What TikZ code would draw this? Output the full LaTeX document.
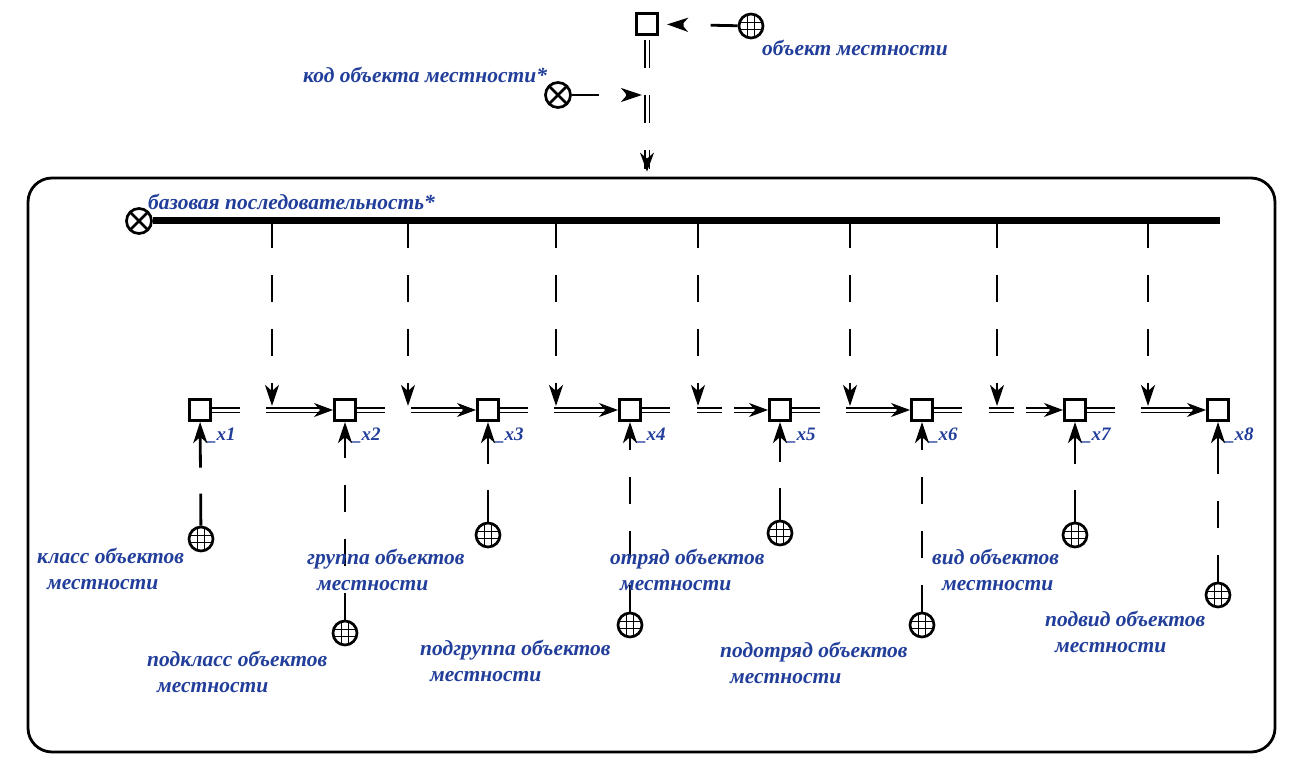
\documentclass[tikz,border=0pt]{standalone}
\usepackage{fontspec}
\setmainfont{Liberation Serif}
\usepackage{tikz}
\usetikzlibrary{arrows.meta, decorations.markings}
\definecolor{idtext}{RGB}{34,62,155}

\tikzset{
    elem/.style={draw, shape=rectangle, line width=3pt, minimum size=21pt, inner sep=0pt},
    cls/.style={draw, shape=circle, line width=2.7pt, minimum size=24pt, inner sep=0pt,
        path picture={
            \foreach \d in {-3.8,3.8} {
                \draw[line width=1.3pt] ([xshift=\d pt]path picture bounding box.north) -- ([xshift=\d pt]path picture bounding box.south);
                \draw[line width=1.3pt] ([yshift=\d pt]path picture bounding box.west) -- ([yshift=\d pt]path picture bounding box.east);
            }}},
    var/.style={draw, shape=circle, line width=2.7pt, minimum size=25pt, inner sep=0pt,
        path picture={
            \draw[line width=2.5pt] (path picture bounding box.north west) -- (path picture bounding box.south east);
            \draw[line width=2.5pt] (path picture bounding box.north east) -- (path picture bounding box.south west);}},
    idtf/.style={text=idtext, font=\fontsize{21.5}{26}\selectfont\bfseries\itshape, align=left, inner sep=0pt},
    sub/.style={text=idtext, font=\fontsize{19}{22}\selectfont\bfseries\itshape, inner sep=0pt},
    memb/.style={line width=2.8pt, dash pattern=on 27pt off 27pt, -{Stealth[length=21pt, width=14pt, inset=6pt]}},
    dbltip/.style={postaction={decorate, decoration={markings, mark=at position #1 with {\pgfsetinnerlinewidth{0pt}\pgfsetdash{}{0pt}\arrow[line width=1pt]{Stealth[length=19pt, width=14pt, inset=6pt]}}}}},
    common/.style={double, line width=1.6pt, double distance=3pt, dash pattern=on 28pt off 26pt on 300pt},
}

\begin{document}
\begin{tikzpicture}[x=1pt, y=-1pt]
    \useasboundingbox (0,0) rectangle (1301,770);

    \node(s0)[elem] at (647,24) {};
    \node(g0)[cls] at (751,26) {};
    \node(code)[var] at (558,95) {};
    \coordinate (a0) at (s0 |- code);
    \node(box)[draw, rounded corners=24pt, line width=2.8pt, minimum width=1247pt, minimum height=574pt] at (651.5,465) {};
    \coordinate (btop) at (s0 |- box.north);

    \node(lobj)[idtf, anchor=west] at (762,48) {объект местности};
    \node(lcode)[idtf, anchor=west] at (303,75) {код объекта местности*};

    \draw[memb, shorten >=8pt] (g0) -- (s0);
    \draw[common, dbltip=-5pt, shorten <=4pt, shorten >=8pt, dash pattern=on 28pt off 27pt] (s0) -- (btop);
    \draw[memb, shorten >=5pt] (code) -- (a0);

    \node(base)[var] at (139,221) {};
    \coordinate (bend) at (1220,221);
    \draw[line width=7pt] (base) -- (bend);
    \node(lbase)[idtf, anchor=west] at (148,202) {базовая последовательность*};

    \foreach \i/\x in {1/200,2/345,3/488,4/630,5/780,6/922,7/1075,8/1218} {
        \node(s\i)[elem] at (\x,410) {};
        \node(n\i)[sub, anchor=west] at (\x+7,436) {\_x\i};
    }

    \foreach \i/\j in {1/2,2/3,3/4,5/6,7/8}
        \draw[common, dbltip=1, shorten >=8pt] (s\i) -- (s\j);
    \foreach \i/\j in {4/5,6/7}
        \draw[common, dbltip=1, shorten >=8pt, dash pattern=on 28pt off 27pt on 25pt off 12pt on 100pt] (s\i) -- (s\j);

    \foreach \i/\x in {1/272,2/408,3/556,4/698,5/850,6/997,7/1148} {
        \coordinate (m\i) at (\x,406);
        \draw[memb] (m\i |- base) -- (m\i);
    }

    \node(g1)[cls] at (201,539) {};
    \node(g2)[cls] at (345,633) {};
    \node(g3)[cls] at (488,535) {};
    \node(g4)[cls] at (630,625) {};
    \node(g5)[cls] at (780,533) {};
    \node(g6)[cls] at (922,625) {};
    \node(g7)[cls] at (1075,535) {};
    \node(g8)[cls] at (1218,595) {};

    \draw[memb, dash pattern=on 32pt off 26pt on 200pt] (g1) -- (s1);
    \draw[memb] (g2) -- (s2);
    \draw[memb, dash pattern=on 32pt off 26pt on 200pt] (g3) -- (s3);
    \draw[memb] (g4) -- (s4);
    \draw[memb, dash pattern=on 32pt off 26pt on 200pt] (g5) -- (s5);
    \draw[memb] (g6) -- (s6);
    \draw[memb, dash pattern=on 32pt off 26pt on 200pt] (g7) -- (s7);
    \draw[memb, dash pattern=on 27pt off 27pt on 27pt off 27pt on 200pt] (g8) -- (s8);

    \node(l1)[idtf, anchor=west] at (37,569) {класс объектов\\\hspace*{10pt}местности};
    \node(l2)[idtf, anchor=west] at (147,672) {подкласс объектов\\\hspace*{10pt}местности};
    \node(l3)[idtf, anchor=west] at (307,570) {группа объектов\\\hspace*{10pt}местности};
    \node(l4)[idtf, anchor=west] at (420,661) {подгруппа объектов\\\hspace*{10pt}местности};
    \node(l5)[idtf, anchor=west] at (610,570) {отряд объектов\\\hspace*{10pt}местности};
    \node(l6)[idtf, anchor=west] at (720,663) {подотряд объектов\\\hspace*{10pt}местности};
    \node(l7)[idtf, anchor=west] at (932,570) {вид объектов\\\hspace*{10pt}местности};
    \node(l8)[idtf, anchor=west] at (1045,632) {подвид объектов\\\hspace*{10pt}местности};
\end{tikzpicture}
\end{document}
